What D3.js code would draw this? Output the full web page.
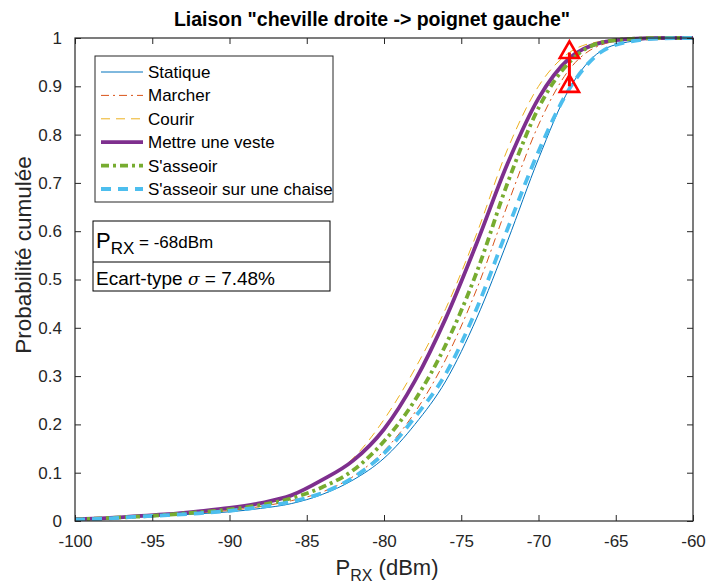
<!DOCTYPE html>
<html>
<head>
<meta charset="utf-8">
<script src="https://cdn.jsdelivr.net/npm/d3@7"></script>
<style>
  body { margin: 0; background: #fff; }
  svg { display: block; font-family: "Liberation Sans", Arial, sans-serif; }
</style>
</head>
<body>
<svg id="chart" width="710" height="588"></svg>
<script>
// ---- data ----
const xGrid = [-100,-98,-96,-94,-92,-90,-88,-86,-84,-82,-80,-78,-76,-74,-72,-70,-68,-66,-64,-62,-60];
const seriesNames = ["Statique","Marcher","Courir","Mettre une veste","S'asseoir","S'asseoir sur une chaise"];
const statique = [0.003,0.005,0.008,0.011,0.015,0.019,0.026,0.036,0.055,0.085,0.13,0.20,0.29,0.42,0.58,0.75,0.895,0.972,0.993,0.999,1.0];
const marcher  = [0.003,0.005,0.009,0.013,0.017,0.022,0.030,0.042,0.060,0.092,0.145,0.225,0.335,0.48,0.655,0.82,0.935,0.985,0.997,1.0,1.0];
const courir   = [0.004,0.006,0.010,0.014,0.020,0.027,0.037,0.053,0.085,0.13,0.21,0.315,0.44,0.595,0.77,0.90,0.97,0.993,0.999,1.0,1.0];
const veste    = [0.004,0.006,0.010,0.014,0.020,0.027,0.037,0.053,0.085,0.125,0.19,0.29,0.42,0.575,0.74,0.875,0.958,0.99,0.998,1.0,1.0];
const asseoir  = [0.003,0.006,0.009,0.013,0.018,0.024,0.033,0.047,0.070,0.105,0.165,0.25,0.365,0.515,0.70,0.855,0.95,0.99,0.998,1.0,1.0];
const chaise   = [0.003,0.005,0.009,0.012,0.016,0.021,0.029,0.040,0.058,0.090,0.14,0.215,0.305,0.44,0.605,0.765,0.895,0.97,0.993,0.999,1.0];
const xTicks = [-100,-95,-90,-85,-80,-75,-70,-65,-60];
const yTicks = [0,0.1,0.2,0.3,0.4,0.5,0.6,0.7,0.8,0.9,1];
const markerX = -68;
const markerY = [0.90, 0.97];
const titleText = 'Liaison "cheville droite -> poignet gauche"';
const yLabel = "Probabilité cumulée";

// ---- layout ----
const svg = d3.select("#chart");
const L = 75, R = 693, T = 38, B = 521;
const x = d3.scaleLinear().domain([-100,-60]).range([L,R]);
const y = d3.scaleLinear().domain([0,1]).range([B,T]);
const axisColor = "#262626";
const FONT = "'Liberation Sans', Arial, sans-serif";

const styles = [
  {data: statique, color:"#0072BD", width:1,   dash:null},
  {data: marcher,  color:"#D95319", width:1,   dash:"8,4,2,4"},
  {data: courir,   color:"#EDB120", width:1,   dash:"9,6"},
  {data: veste,    color:"#7E2F8E", width:3.8, dash:null},
  {data: asseoir,  color:"#77AC30", width:3.8, dash:"8,4,3,4"},
  {data: chaise,   color:"#4DBEEE", width:3.8, dash:"10,7"}
];

svg.append("defs").append("clipPath").attr("id","clip")
  .append("rect").attr("x",L).attr("y",T-3).attr("width",R-L).attr("height",B-T+3);

const line = d3.line().x((d,i)=>x(xGrid[i])).y(d=>y(d)).curve(d3.curveMonotoneX);
const g = svg.append("g").attr("clip-path","url(#clip)");
styles.forEach(s=>{
  g.append("path").datum(s.data).attr("d",line)
    .attr("fill","none").attr("stroke",s.color).attr("stroke-width",s.width)
    .attr("stroke-dasharray",s.dash);
});

// red marker
svg.append("line").attr("x1",x(markerX)).attr("x2",x(markerX))
  .attr("y1",y(markerY[0])).attr("y2",y(markerY[1]))
  .attr("stroke","#ff0000").attr("stroke-width",3);
const tri = d3.symbol().type(d3.symbolTriangle).size(160);
markerY.forEach(v=>{
  svg.append("path").attr("d",tri)
    .attr("transform",`translate(${x(markerX)},${y(v)})`)
    .attr("fill","none").attr("stroke","#ff0000").attr("stroke-width",2.6);
});

// axes
const fs = 17;
const xb = svg.append("g").attr("transform",`translate(0,${B})`)
  .call(d3.axisBottom(x).tickValues(xTicks).tickSize(-6).tickPadding(14).tickFormat(d=>String(d)));
const xt = svg.append("g").attr("transform",`translate(0,${T})`)
  .call(d3.axisTop(x).tickValues(xTicks).tickSize(-6).tickFormat(""));
const yl = svg.append("g").attr("transform",`translate(${L},0)`)
  .call(d3.axisLeft(y).tickValues(yTicks).tickSize(-6).tickPadding(13).tickFormat(d=>d3.format("~g")(d)));
const yr = svg.append("g").attr("transform",`translate(${R},0)`)
  .call(d3.axisRight(y).tickValues(yTicks).tickSize(-6).tickFormat(""));
[xb,xt,yl,yr].forEach(a=>{
  a.attr("font-family",FONT).attr("font-size",fs);
  a.selectAll("line").attr("stroke",axisColor).attr("stroke-width",1);
  a.selectAll("text").attr("fill",axisColor);
  a.select(".domain").remove();
});
svg.append("rect").attr("x",L).attr("y",T).attr("width",R-L).attr("height",B-T)
  .attr("fill","none").attr("stroke",axisColor).attr("stroke-width",1.2);

// title
svg.append("text").attr("x",372).attr("y",26).attr("text-anchor","middle")
  .style("font-size","19.5px").style("font-weight","bold").attr("fill","#000").text(titleText);

// x label
const xlab = svg.append("text").attr("x",387).attr("y",575).attr("text-anchor","middle")
  .style("font-size","22px").attr("fill",axisColor);
xlab.append("tspan").text("P");
xlab.append("tspan").attr("dy",6).style("font-size","16px").text("RX");
xlab.append("tspan").attr("dy",-6).text(" (dBm)");

// y label
svg.append("text").attr("transform",`translate(31,255) rotate(-90)`)
  .attr("text-anchor","middle").style("font-size","22.5px").attr("fill",axisColor).text(yLabel);

// legend
const lg = svg.append("g");
lg.append("rect").attr("x",95).attr("y",56).attr("width",238).attr("height",146)
  .attr("fill","#fff").attr("stroke",axisColor).attr("stroke-width",1);
seriesNames.forEach((n,i)=>{
  const yy = 72 + i*23.4;
  const s = styles[i];
  lg.append("line").attr("x1",101).attr("x2",143).attr("y1",yy).attr("y2",yy)
    .attr("stroke",s.color).attr("stroke-width",s.width).attr("stroke-dasharray",s.dash);
  lg.append("text").attr("x",148).attr("y",yy+6).style("font-size","17px").attr("fill","#000").text(n);
});

// annotation box
const ab = svg.append("g");
ab.append("rect").attr("x",93).attr("y",221).attr("width",237).attr("height",70)
  .attr("fill","#fff").attr("stroke","#000").attr("stroke-width",1);
ab.append("line").attr("x1",93).attr("x2",330).attr("y1",262).attr("y2",262).attr("stroke","#000");
const t1 = ab.append("text").attr("x",96).attr("y",248).style("font-size","17px").attr("fill","#000");
t1.append("tspan").style("font-size","22px").text("P");
t1.append("tspan").attr("dy",6).text("RX");
t1.append("tspan").attr("dy",-6).text(" = -68dBm");
const t2 = ab.append("text").attr("x",96).attr("y",285).style("font-size","19px").attr("fill","#000");
t2.append("tspan").text("Ecart-type ");
t2.append("tspan").style("font-style","italic").style("font-family","'DejaVu Serif', serif").style("font-size","17px").text("σ");
t2.append("tspan").text(" = 7.48%");
</script>
</body>
</html>
